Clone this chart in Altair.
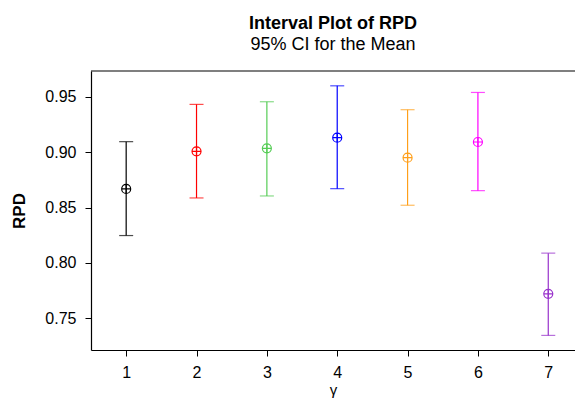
import altair as alt
import pandas as pd

gamma = [1, 2, 3, 4, 5, 6, 7]
mean_rpd = [0.8669, 0.9009, 0.9036, 0.9132, 0.8951, 0.9093, 0.7720]
lower_ci = [0.8247, 0.8587, 0.8605, 0.8671, 0.8521, 0.8653, 0.7344]
upper_ci = [0.9096, 0.9433, 0.9457, 0.9601, 0.9385, 0.9541, 0.8088]
colors = ["#000000", "#ff0000", "#55cc55", "#0000ff", "#ff9f1a", "#ff00ff", "#9933cc"]
y_ticks = [0.75, 0.80, 0.85, 0.90, 0.95]

df = pd.DataFrame({"g": gamma, "mean": mean_rpd, "lo": lower_ci, "hi": upper_ci})

font = "Liberation Sans"
xs = alt.Scale(domain=[0.5, 7.38], nice=False)
ys = alt.Scale(domain=[0.7212, 0.9735], nice=False, zero=False)
col = alt.Color("g:N", scale=alt.Scale(domain=gamma, range=colors), legend=None)

x_enc = alt.X("g:Q", scale=xs, title="γ",
              axis=alt.Axis(values=gamma, format="d", grid=False, tickSize=6,
                            labelPadding=8, labelFontSize=16, titleFontSize=15,
                            titleFontWeight="normal", titlePadding=2,
                            domainColor="black", tickColor="black", domainWidth=1.2,
                            labelColor="black", titleColor="black"))
y_axis = alt.Axis(values=y_ticks, format=".2f", grid=False, tickSize=6,
                  labelPadding=9, labelFontSize=16, titleFontSize=17,
                  titleFontWeight="bold", titlePadding=16,
                  domainColor="black", tickColor="black", domainWidth=1.2,
                  labelColor="black", titleColor="black")

base = alt.Chart(df)
rules = base.mark_rule(strokeWidth=1.2).encode(
    x=x_enc,
    y=alt.Y("lo:Q", scale=ys, title="RPD", axis=y_axis),
    y2="hi:Q",
    color=col,
)
cap_hi = base.mark_tick(orient="horizontal", size=14, thickness=1.2).encode(
    x=alt.X("g:Q", scale=xs), y=alt.Y("hi:Q", scale=ys), color=col)
cap_lo = base.mark_tick(orient="horizontal", size=14, thickness=1.2).encode(
    x=alt.X("g:Q", scale=xs), y=alt.Y("lo:Q", scale=ys), color=col)
pts = base.mark_point(
    shape="M-1,0A1,1 0 1,1 1,0A1,1 0 1,1 -1,0Z M-1,0L1,0 M0,-1L0,1",
    size=81, filled=False, strokeWidth=1.2, opacity=1,
).encode(x=alt.X("g:Q", scale=xs), y=alt.Y("mean:Q", scale=ys), stroke=col)

# top border of the frame (right side is cut off in the reference)
top_line = alt.Chart(pd.DataFrame({"k": [0]})).mark_rule(
    color="black", strokeWidth=1.2
).encode(x=alt.value(0), x2=alt.value(484), y=alt.value(0))

chart = alt.layer(rules, cap_hi, cap_lo, pts, top_line).properties(
    width=484, height=279,
    title=alt.TitleParams("Interval Plot of RPD", subtitle="95% CI for the Mean",
                          anchor="middle", fontSize=18, subtitleFontSize=18,
                          font=font, subtitleFont=font, fontWeight="bold",
                          color="black", subtitleColor="black", offset=16,
                          subtitlePadding=3),
    autosize=alt.AutoSizeParams(type="none"),
    padding={"left": 83, "top": 63, "right": 0, "bottom": 50},
    background="white",
).configure_view(stroke=None).configure_axis(
    labelFont=font, titleFont=font
)

chart.save("out.html", embed_options={"renderer": "svg", "actions": False})
